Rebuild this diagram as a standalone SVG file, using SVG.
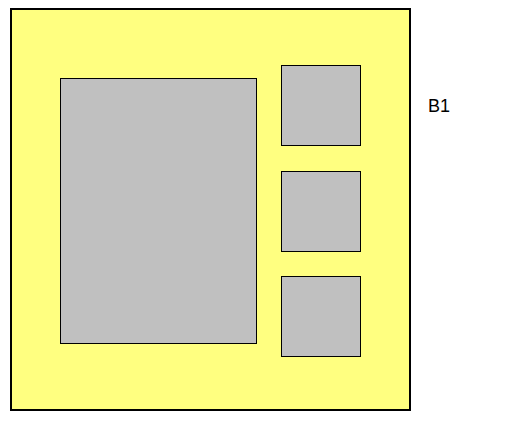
<svg xmlns="http://www.w3.org/2000/svg" width="510" height="421" viewBox="0 0 510 421">
<style>
.outer{fill:#FFFF80;stroke:#000;stroke-width:2}
.box{fill:#C0C0C0;stroke:#000;stroke-width:1}
</style>
<rect width="510" height="421" fill="#fff"/>
<g id="B1">
<rect class="outer" x="11" y="9" width="399" height="401"/>
<text x="428" y="111.5" font-family="Liberation Sans, Arial, sans-serif" font-size="18" fill="#000">B1</text>
</g>
<g id="big"><rect class="box" x="60.5" y="78.5" width="196" height="265"/></g>
<g id="s1"><rect class="box" x="281.5" y="65.5" width="79" height="80"/></g>
<g id="s2"><rect class="box" x="281.5" y="171.5" width="79" height="80"/></g>
<g id="s3"><rect class="box" x="281.5" y="276.5" width="79" height="80"/></g>
<g id="connectors"/>
</svg>
